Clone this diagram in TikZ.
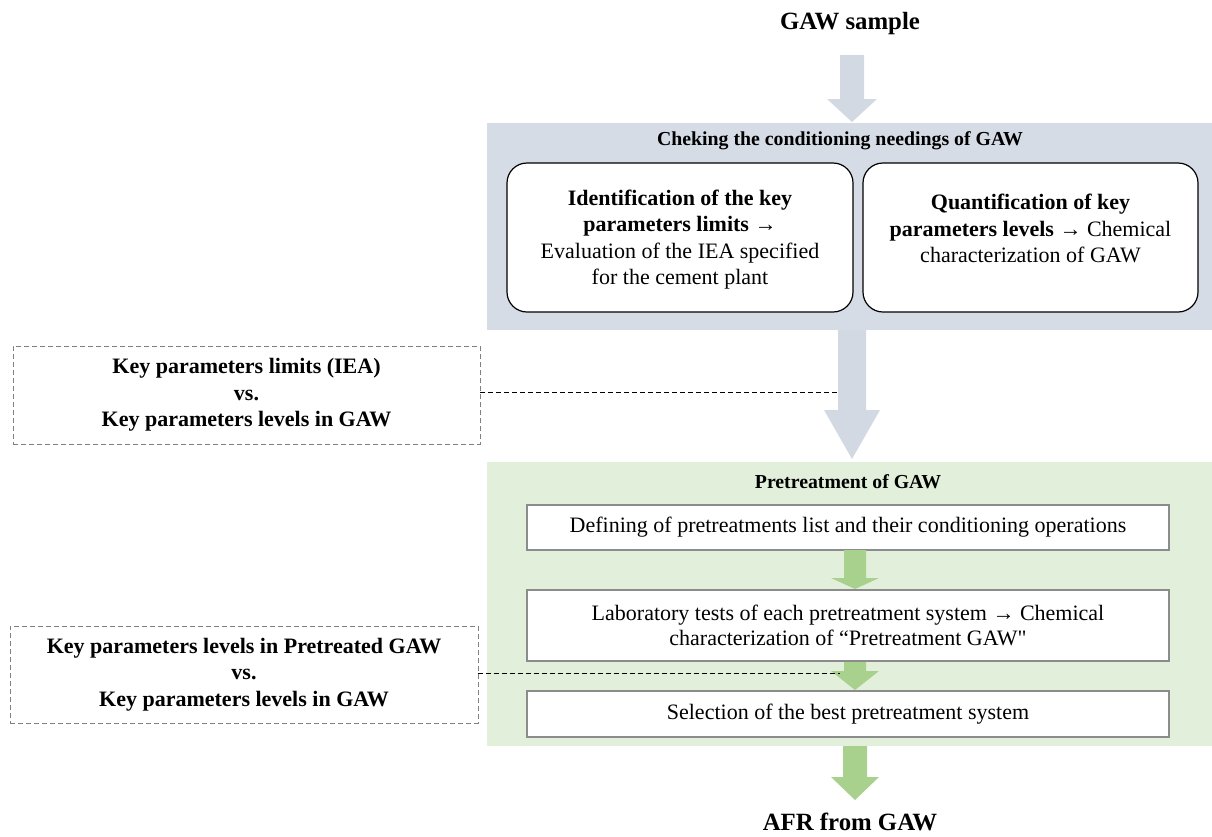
\documentclass[tikz,border=0pt]{standalone}
\usepackage{fontspec}
\setmainfont{Liberation Serif}
\newfontfamily\plainq{Liberation Serif}
\definecolor{bluepanel}{HTML}{D6DCE5}
\definecolor{bluearrow}{HTML}{D3D9E3}
\definecolor{greenpanel}{HTML}{E2EFDA}
\definecolor{greenarrow}{HTML}{A9D18E}
\definecolor{boxgray}{HTML}{8C8C8C}
\definecolor{dashgray}{HTML}{808080}
\newcommand\fatarrow[7]{%
  \fill[#1] (#2-#6,#3) -- (#2+#6,#3) -- (#2+#6,#4) -- (#2+#7,#4) -- (#2,#5)
    -- (#2-#7,#4) -- (#2-#6,#4) -- cycle;}
\begin{document}
\begin{tikzpicture}[x=1pt,y=-1pt,
  bigtitle/.style={font=\bfseries\fontsize{24.8}{28}\selectfont, inner sep=0pt},
  paneltitle/.style={font=\bfseries\fontsize{19.8}{23}\selectfont, inner sep=0pt},
  panel/.style={draw=none, inner sep=0pt},
  roundbox/.style={draw=black, line width=1.2pt, fill=white, rounded corners=20pt,
    inner sep=0pt},
  stepbox/.style={draw=boxgray, line width=1.4pt, fill=white, inner sep=0pt,
    minimum width=642pt, align=center, font=\fontsize{22}{25.5}\selectfont},
  textblock/.style={align=center, inner sep=0pt, font=\fontsize{22}{26.3}\selectfont},
  notebox/.style={draw=dashgray, line width=0.9pt, dash pattern=on 5pt off 3pt,
    align=center, inner sep=0pt, font=\bfseries\fontsize{22}{26.5}\selectfont},
  link/.style={draw=black, line width=1pt, dash pattern=on 5pt off 3pt}
]
\useasboundingbox (0,0) rectangle (1212,836);

% titles
\node[bigtitle] (gaw) at (850,24) {GAW sample};
\node[bigtitle] (afr) at (850,822) {AFR from GAW};

% blue panel
\node[panel, fill=bluepanel, minimum width=725pt, minimum height=207pt] (chk) at (849.5,226.5) {};
\node[paneltitle] (chkt) at (840,141) {Cheking the conditioning needings of GAW};
\node[roundbox, minimum width=346pt, minimum height=149pt] (idb) at (680,237.5) {};
\node[textblock] (idt) at ([yshift=-2pt]idb.center) {\textbf{Identification of the key}\\
  \textbf{parameters limits →}\\Evaluation of the IEA specified\\for the cement plant};
\node[roundbox, minimum width=335pt, minimum height=149pt] (qb) at (1030.5,237.5) {};
\node[textblock, anchor=center] (qt) at ([yshift=9pt]qb.center) {\textbf{Quantification of key}\\
  \textbf{parameters levels →} Chemical\\characterization of GAW};

% green panel
\node[panel, fill=greenpanel, minimum width=725pt, minimum height=284pt] (pre) at (849.5,604) {};
\node[paneltitle] (pret) at (848,482) {Pretreatment of GAW};
\node[stepbox, minimum height=45pt] (sa) at (848,527.5)
  {Defining of pretreatments list and their conditioning operations};
\node[stepbox, minimum height=71pt] (sb) at (848,625.5)
  {Laboratory tests of each pretreatment system → Chemical\\characterization of “Pretreatment GAW{\plainq"}};
\node[stepbox, minimum height=46pt] (sc) at (848,714)
  {Selection of the best pretreatment system};

% dashed note boxes
\node[notebox, minimum width=467pt, minimum height=98pt] (n1) at (246.5,395)
  {Key parameters limits (IEA)\\vs.\\Key parameters levels in GAW};
\node[notebox, minimum width=468pt, minimum height=97pt] (n2) at (244,674.5)
  {Key parameters levels in Pretreated GAW\\vs.\\Key parameters levels in GAW};

% block arrows
\fatarrow{bluearrow}{852}{55}{99}{122}{12}{25}
\fatarrow{bluearrow}{852}{330}{410}{459}{14}{28}
\fatarrow{greenarrow}{855}{550}{578}{589}{11}{24}
\fatarrow{greenarrow}{855}{662}{671}{690}{11}{24}
\fatarrow{greenarrow}{855}{746}{777}{800}{12}{24}

% dashed links
\coordinate (l1) at (838,392);
\coordinate (l2) at (840,673);
\draw[link] (n1.east |- l1) -- (l1);
\draw[link] (n2.east |- l2) -- (l2);
\end{tikzpicture}
\end{document}
